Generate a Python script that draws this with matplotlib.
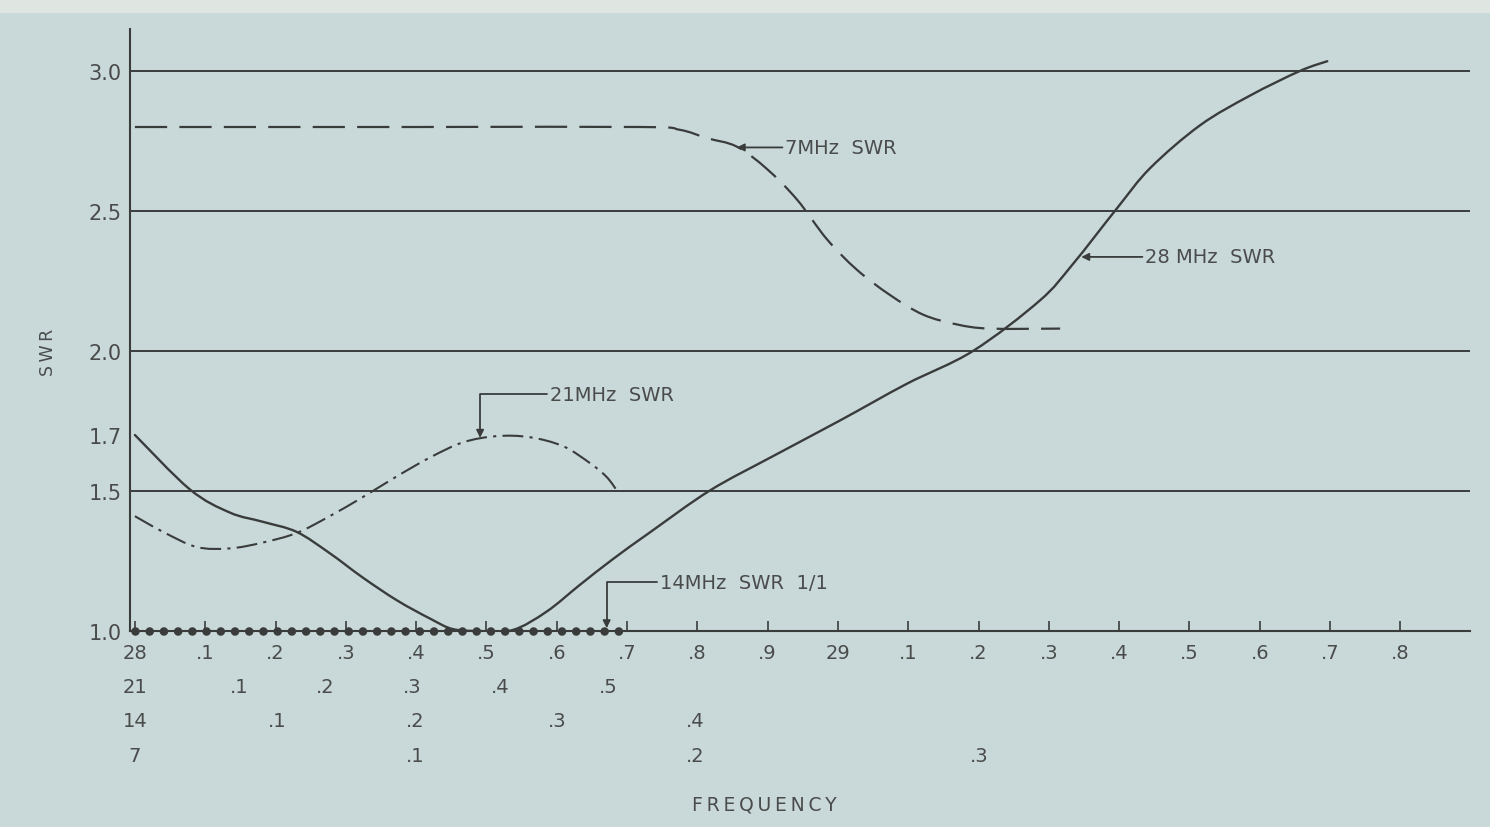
import matplotlib
matplotlib.use("Agg")
import matplotlib.pyplot as plt
from matplotlib.patches import Rectangle, PathPatch
from matplotlib.path import Path

# ---------------- data (x = position on the common 28 MHz frequency scale) ----------------
f28 = [28.0, 28.078, 28.135, 28.182, 28.230, 28.277, 28.324, 28.373, 28.420, 28.452,
       28.491, 28.538, 28.586, 28.633, 28.680, 28.733, 28.818, 28.908, 29.003, 29.098,
       29.192, 29.287, 29.334, 29.397, 29.444, 29.515, 29.586, 29.657, 29.696]
swr28 = [1.70, 1.506, 1.423, 1.39, 1.354, 1.278, 1.191, 1.109, 1.044, 1.007,
         1.0, 1.004, 1.07, 1.165, 1.257, 1.353, 1.502, 1.625, 1.752, 1.883,
         2.0, 2.18, 2.31, 2.51, 2.653, 2.806, 2.912, 3.0, 3.035]

f7 = [28.0, 28.40, 28.72, 28.775, 28.814, 28.856, 28.899, 28.942, 28.984, 29.027,
      29.074, 29.121, 29.169, 29.216, 29.316]
swr7 = [2.80, 2.80, 2.80, 2.79, 2.76, 2.73, 2.65, 2.54, 2.40, 2.29,
        2.20, 2.13, 2.095, 2.08, 2.08]

f21 = [28.0, 28.040, 28.088, 28.135, 28.182, 28.230, 28.277, 28.324, 28.373, 28.420,
       28.467, 28.515, 28.562, 28.609, 28.647, 28.671, 28.686]
swr21 = [1.41, 1.354, 1.30, 1.295, 1.316, 1.35, 1.41, 1.478, 1.553, 1.62,
         1.674, 1.696, 1.692, 1.66, 1.60, 1.55, 1.50]

f14 = [28.0, 28.70]
swr14 = [1.0, 1.0]

y_ticks = [1.0, 1.5, 1.7, 2.0, 2.5, 3.0]
y_labels = ["1.0", "1.5", "1.7", "2.0", "2.5", "3.0"]
grid_levels = [1.5, 2.0, 2.5, 3.0]

row28_pos = [28.0, 28.1, 28.2, 28.3, 28.4, 28.5, 28.6, 28.7, 28.8, 28.9,
             29.0, 29.1, 29.2, 29.3, 29.4, 29.5, 29.6, 29.7, 29.8]
row28_lab = ["28", ".1", ".2", ".3", ".4", ".5", ".6", ".7", ".8", ".9",
             "29", ".1", ".2", ".3", ".4", ".5", ".6", ".7", ".8"]
row21_pos = [28.0, 28.149, 28.270, 28.395, 28.519, 28.673]
row21_lab = ["21", ".1", ".2", ".3", ".4", ".5"]
row14_pos = [28.0, 28.203, 28.398, 28.600, 28.797]
row14_lab = ["14", ".1", ".2", ".3", ".4"]
row7_pos = [28.0, 28.398, 28.797, 29.201]
row7_lab = ["7", ".1", ".2", ".3"]

# ---------------- style ----------------
BG = "#c9d8d9"
INK = "#3a3c3c"
TXT = "#4a4c4c"
TS = "\u2009"


def spaced(s):
    return TS.join(s)


def smooth_path(xs, ys):
    """Smooth (Catmull-Rom style) Bezier path passing through the given points."""
    pts = list(zip(xs, ys))
    n = len(pts)
    verts = [pts[0]]
    codes = [Path.MOVETO]
    for i in range(n - 1):
        p0 = pts[i - 1] if i > 0 else pts[i]
        p1 = pts[i]
        p2 = pts[i + 1]
        p3 = pts[i + 2] if i + 2 < n else pts[i + 1]
        c1 = (p1[0] + (p2[0] - p0[0]) / 6.0, p1[1] + (p2[1] - p0[1]) / 6.0)
        c2 = (p2[0] - (p3[0] - p1[0]) / 6.0, p2[1] - (p3[1] - p1[1]) / 6.0)
        verts += [c1, c2, p2]
        codes += [Path.CURVE4] * 3
    return Path(verts, codes)


fig = plt.figure(figsize=(14.9, 8.28), dpi=100, facecolor=BG)
fig.patches.append(Rectangle((0, 1 - 14 / 828), 1, 14 / 828, transform=fig.transFigure,
                             facecolor="#dfe6e1", edgecolor="none", zorder=-5))
ax = fig.add_axes([130 / 1490, 196 / 828, 1340 / 1490, 602 / 828], facecolor=BG)

ax.set_xlim(27.993, 29.899)
ax.set_ylim(1.0, 3.15)

for s in ["top", "right"]:
    ax.spines[s].set_visible(False)
for s in ["left", "bottom"]:
    ax.spines[s].set_color(INK)
    ax.spines[s].set_linewidth(1.5)

for g in grid_levels:
    ax.axhline(g, color=INK, lw=1.4, zorder=1)

# curves
ax.add_patch(PathPatch(smooth_path(f28, swr28), fill=False, edgecolor=INK, lw=1.7,
                       zorder=3, capstyle="round"))
ax.add_patch(PathPatch(smooth_path(f7, swr7), fill=False, edgecolor=INK, lw=1.6,
                       linestyle=(0, (14.5, 5.5)), zorder=3))
ax.add_patch(PathPatch(smooth_path(f21, swr21), fill=False, edgecolor=INK, lw=1.5,
                       linestyle=(0, (10, 3, 1.5, 3)), zorder=3))
ax.plot(f14, swr14, color=INK, lw=6.2, linestyle=(0, (0.001, 1.65)),
        dash_capstyle="round", zorder=4, clip_on=False)

# y axis
ax.set_yticks(y_ticks)
ax.set_yticklabels(y_labels)
ax.tick_params(axis="y", length=0, pad=6, labelsize=15, labelcolor=TXT)

# x axis (first row: 28 MHz)
ax.set_xticks(row28_pos)
ax.set_xticklabels(row28_lab)
ax.tick_params(axis="x", direction="in", length=7, width=1.2, color=INK,
               pad=9, labelsize=14, labelcolor=TXT)

# additional frequency rows
tr = ax.get_xaxis_transform()
ax_h = 602.0
for pos, labs, dy in [(row21_pos, row21_lab, 56), (row14_pos, row14_lab, 90),
                      (row7_pos, row7_lab, 125)]:
    for p, l in zip(pos, labs):
        ax.text(p, -dy / ax_h, l, transform=tr, ha="center", va="center",
                fontsize=14, color=TXT, clip_on=False)

ax.text(28.895, -173 / ax_h, spaced("FREQUENCY"), transform=tr, ha="center",
        va="center", fontsize=13.5, color=TXT)
fig.text(48 / 1490, 1 - 352 / 828, spaced("SWR"), rotation=90, ha="center",
         va="center", fontsize=12.5, color=TXT)

# annotations
ann_kw = dict(fontsize=14, color=TXT, ha="left", va="center")
arrow = dict(arrowstyle="-|>", color=INK, lw=1.3, shrinkA=0, shrinkB=0,
             mutation_scale=11, relpos=(0, 0.5))
elbow = dict(arrow, connectionstyle="angle,angleA=0,angleB=90,rad=0")

ax.annotate("7MHz  SWR", xy=(28.856, 2.727), xytext=(28.925, 2.727),
            arrowprops=arrow, **ann_kw)
ax.annotate("28 MHz  SWR", xy=(29.346, 2.336), xytext=(29.437, 2.336),
            arrowprops=arrow, **ann_kw)
ax.annotate("21MHz  SWR", xy=(28.491, 1.69), xytext=(28.590, 1.845),
            arrowprops=elbow, **ann_kw)
ax.annotate("14MHz  SWR  1/1", xy=(28.671, 1.01), xytext=(28.747, 1.174),
            arrowprops=elbow, **ann_kw)

fig.savefig("out.png", dpi=100, facecolor=BG)
